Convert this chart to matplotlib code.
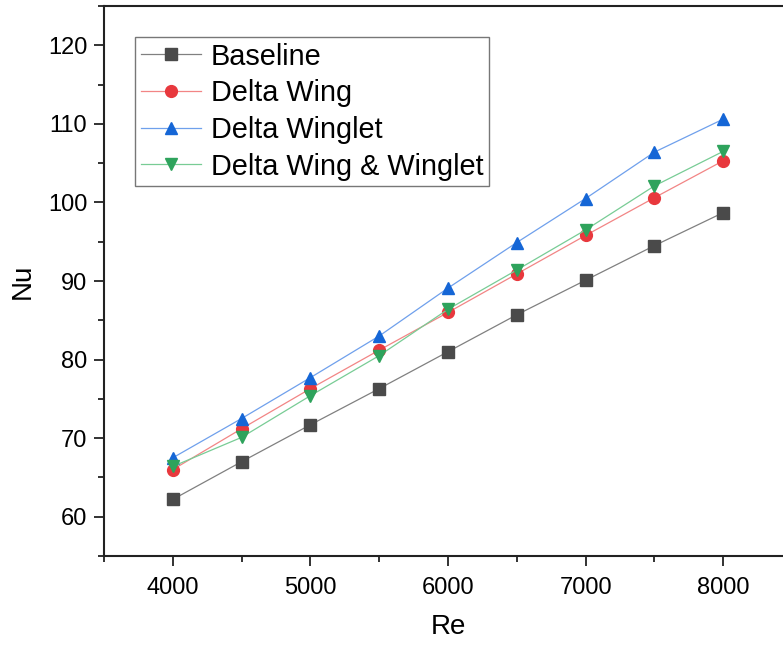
import matplotlib
matplotlib.use("Agg")
import matplotlib.pyplot as plt
from matplotlib.ticker import MultipleLocator

plt.rcParams["font.family"] = ["Liberation Sans", "DejaVu Sans"]

# Daten
re = [4000, 4500, 5000, 5500, 6000, 6500, 7000, 7500, 8000]
nu_baseline = [62.2, 67.0, 71.7, 76.3, 81.0, 85.7, 90.1, 94.5, 98.7]
nu_delta_wing = [66.0, 71.2, 76.3, 81.2, 86.0, 90.9, 95.8, 100.6, 105.3]
nu_delta_winglet = [67.5, 72.5, 77.7, 83.0, 89.1, 94.9, 100.5, 106.4, 110.6]
nu_wing_winglet = [66.4, 70.1, 75.4, 80.5, 86.4, 91.4, 96.5, 102.1, 106.5]

labels = ["Baseline", "Delta Wing", "Delta Winglet", "Delta Wing & Winglet"]
series = [nu_baseline, nu_delta_wing, nu_delta_winglet, nu_wing_winglet]
markers = ["s", "o", "^", "v"]
line_colors = ["#808080", "#f28585", "#6fa0ec", "#78cc95"]
marker_colors = ["#4a4a4a", "#e8383d", "#1566d6", "#2ea35c"]

fig = plt.figure(figsize=(7.83, 6.46), dpi=100)
ax = fig.add_axes([104 / 783, 90 / 646, 688 / 783, 550 / 646])

for y, lab, m, lc, mc in zip(series, labels, markers, line_colors, marker_colors):
    ax.plot(re, y, color=lc, linewidth=0.9, marker=m, markersize=8.5,
            markerfacecolor=mc, markeredgecolor=mc, label=lab)

ax.set_xlim(3500, 8500)
ax.set_ylim(55, 125)
ax.xaxis.set_major_locator(MultipleLocator(1000))
ax.xaxis.set_minor_locator(MultipleLocator(500))
ax.yaxis.set_major_locator(MultipleLocator(10))
ax.yaxis.set_minor_locator(MultipleLocator(5))

for s in ax.spines.values():
    s.set_linewidth(1.5)
    s.set_color("#222222")

ax.tick_params(which="major", direction="out", length=7, width=1.3,
               labelsize=17, pad=5, colors="#222222", labelcolor="black")
ax.tick_params(axis="x", which="major", pad=8)
ax.tick_params(which="minor", direction="out", length=4, width=1.3,
               colors="#222222")

ax.set_xlabel("Re", fontsize=20, labelpad=11)
ax.set_ylabel("Nu", fontsize=20, labelpad=9)

leg = ax.legend(loc="upper left", bbox_to_anchor=(0.045, 0.944),
                borderaxespad=0, fontsize=20.8, frameon=True, fancybox=False,
                handlelength=2.1, handletextpad=0.33, labelspacing=0.3,
                borderpad=0.2)
leg.get_frame().set_edgecolor("#555555")
leg.get_frame().set_linewidth(1.0)

fig.savefig("out.png", dpi=100)
